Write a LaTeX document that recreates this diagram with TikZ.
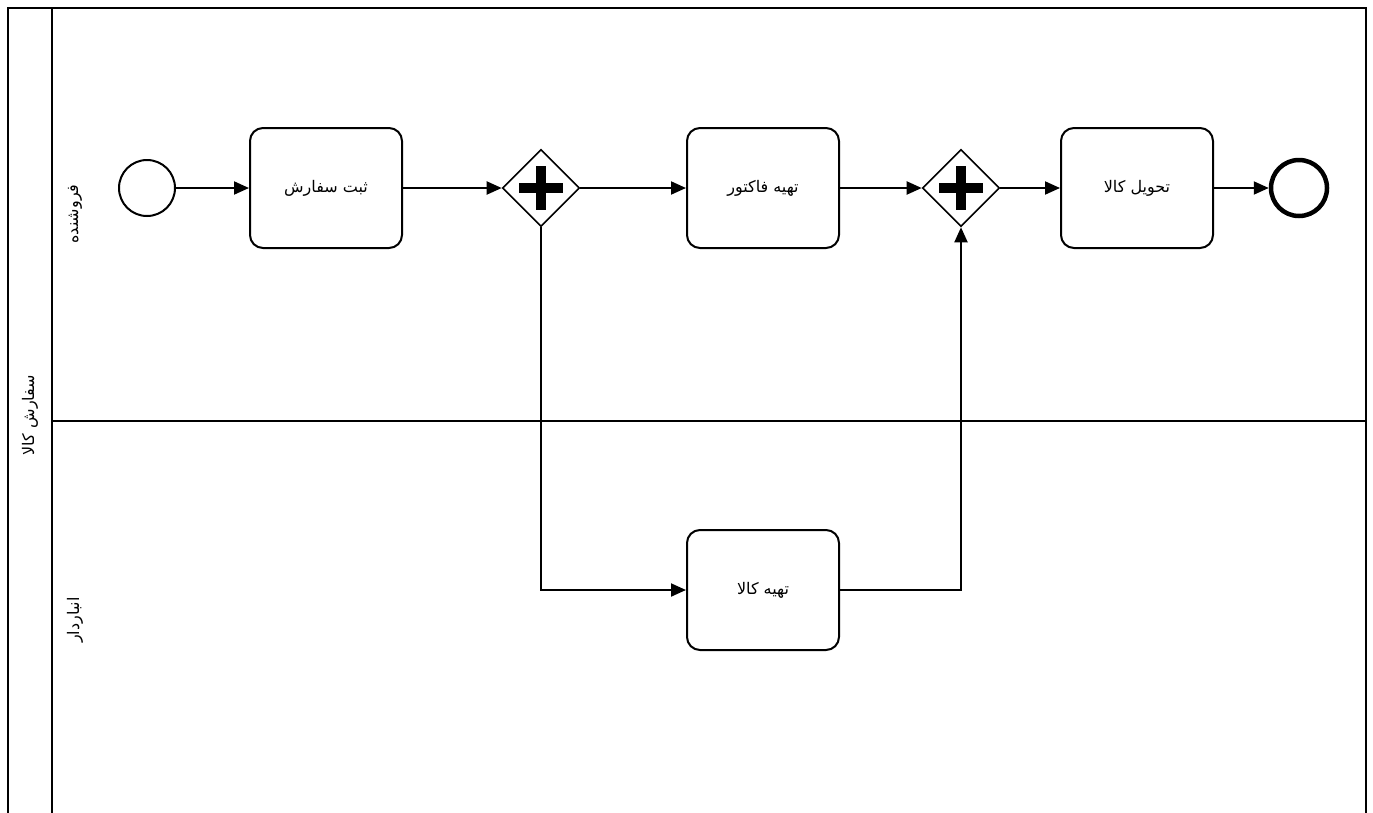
\documentclass[tikz,border=0pt]{standalone}
\usepackage{fontspec}
\newfontfamily\farsi[Script=Arabic]{DejaVu Sans}
\TeXXeTstate=1
\usetikzlibrary{shapes.geometric,positioning,arrows.meta}
\newcommand{\fa}[1]{{\farsi\beginR #1\endR}}

\begin{document}
\begin{tikzpicture}[x=1pt, y=-1pt, line width=2pt, >={Triangle[length=15pt,width=13pt]},
	task/.style={rectangle, draw, line width=2pt, rounded corners=13pt, minimum width=152pt, minimum height=120pt, font=\fontsize{16}{19}\selectfont},
	gateway/.style={diamond, draw, line width=1.6pt, minimum width=77pt, minimum height=77pt, inner sep=0pt,
		path picture={
			\fill (path picture bounding box.center) +(-22pt,-5pt) rectangle +(22pt,5pt);
			\fill (path picture bounding box.center) +(-5pt,-22pt) rectangle +(5pt,22pt);}},
	startevent/.style={circle, draw, line width=2pt, minimum size=56pt, inner sep=0pt},
	stopevent/.style={circle, draw, line width=4.5pt, minimum size=56pt, inner sep=0pt},
	lanelabel/.style={rotate=90, font=\fontsize{16}{19}\selectfont},
	flow/.style={->, line width=2pt}]
	\useasboundingbox (0,0) rectangle (1373,812);

	% pool and lanes
	\draw [line width=2.6pt] (8,8) rectangle (1366,822);
	\draw [line width=2.6pt] (52,8) -- (52,822);
	\draw [line width=2.6pt] (52,421) -- (1366,421);
	\node [lanelabel] (pool) at (30,415) {\fa{سفارش کالا}};
	\node [lanelabel] (seller) at (75,214) {\fa{فروشنده}};
	\node [lanelabel] (store) at (75,620) {\fa{انباردار}};

	\node [startevent] (start) at (147,188) {};
	\node [task] (order) at (326,188) {\fa{ثبت سفارش}};
	\node [gateway] (split) at (541,188) {};
	\node [task] (invoice) at (763,188) {\fa{تهیه فاکتور}};
	\node [gateway] (join) at (961,188) {};
	\node [task] (deliver) at (1137,188) {\fa{تحویل کالا}};
	\node [stopevent] (finish) at (1299,188) {};
	\node [task] (prepare) [below=280pt of invoice] {\fa{تهیه کالا}};

	\draw [flow] (start) -- (order);
	\draw [flow] (order) -- (split);
	\draw [flow] (split) -- (invoice);
	\draw [flow] (invoice) -- (join);
	\draw [flow] (join) -- (deliver);
	\draw [flow] (deliver) -- (finish);
	\draw [flow] (split.south) |- (prepare.west);
	\draw [flow] (prepare.east) -| (join.south);
\end{tikzpicture}
\end{document}
